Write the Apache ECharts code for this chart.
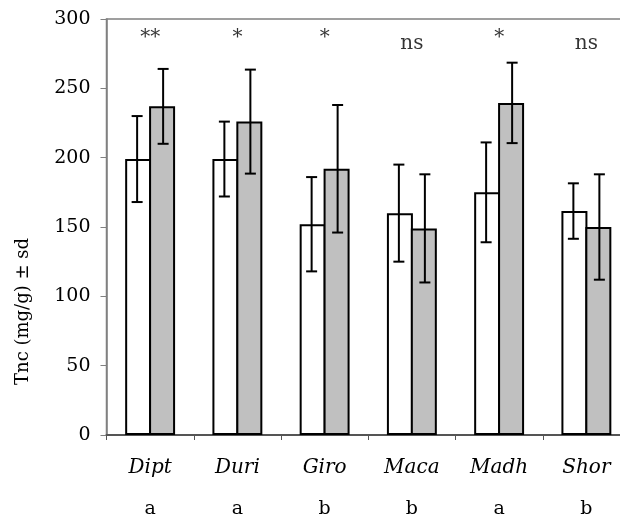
<!DOCTYPE html>
<html>
<head>
<meta charset="utf-8">
<script src="https://cdn.jsdelivr.net/npm/echarts@6/dist/echarts.min.js"></script>
<style>
  html, body { margin: 0; padding: 0; background: #fff; }
  #chart { width: 620px; height: 517px; }
</style>
</head>
<body>
<div id="chart"></div>
<script>
// Tnc content per genus: two groups (open and shaded bars), mean ± sd
const categories = ['Dipt', 'Duri', 'Giro', 'Maca', 'Madh', 'Shor'];
const openMean = [199, 199, 152, 160, 175, 161.5];
const openSd   = [31, 27, 34, 35, 36, 20];
const shadedMean = [237, 226, 192, 149, 239.5, 150];
const shadedSd   = [27, 37.5, 46, 39, 29, 38];
const sigLabels = ['**', '*', '*', 'ns', '*', 'ns'];
const groupLetters = ['a', 'a', 'b', 'b', 'a', 'b'];
const yTicks = { min: 0, max: 300, step: 50 };

const SERIF = '"DejaVu Serif", "Liberation Serif", serif';
const BAR_W = 26;

function errorBarSeries(means, sds, shift) {
  return {
    type: 'custom',
    z: 5,
    silent: true,
    data: means.map((m, i) => [i, m, sds[i]]),
    renderItem: function (params, api) {
      const idx = api.value(0);
      const m = api.value(1);
      const s = api.value(2);
      const hi = api.coord([idx, m + s]);
      const lo = api.coord([idx, m - s]);
      const x = hi[0] + shift;
      const cap = 5.5;
      const style = { stroke: '#000', lineWidth: 2, fill: null };
      return {
        type: 'group',
        children: [
          { type: 'line', shape: { x1: x, y1: hi[1], x2: x, y2: lo[1] }, style: style },
          { type: 'line', shape: { x1: x - cap, y1: hi[1], x2: x + cap, y2: hi[1] }, style: style },
          { type: 'line', shape: { x1: x - cap, y1: lo[1], x2: x + cap, y2: lo[1] }, style: style }
        ]
      };
    }
  };
}

const chart = echarts.init(document.getElementById('chart'));
chart.setOption({
  animation: false,
  backgroundColor: '#fff',
  grid: {
    left: 106.5, width: 523.5, top: 19, bottom: 82,
    outerBoundsMode: 'none',
    containLabel: false,
    show: true, borderColor: '#808080', borderWidth: 1.5, backgroundColor: 'transparent'
  },
  xAxis: [
    {
      type: 'category',
      data: categories,
      axisLine: { lineStyle: { color: '#555', width: 2 } },
      axisTick: { show: true, length: 5, lineStyle: { color: '#555', width: 1 } },
      axisLabel: {
        margin: 23, color: '#000', fontFamily: SERIF, fontStyle: 'italic', fontSize: 20
      }
    },
    {
      type: 'category',
      position: 'bottom',
      data: groupLetters,
      axisLine: { show: false },
      axisTick: { show: false },
      axisLabel: { margin: 65, color: '#000', fontFamily: SERIF, fontSize: 19 }
    }
  ],
  yAxis: {
    type: 'value',
    min: yTicks.min, max: yTicks.max, interval: yTicks.step,
    splitLine: { show: false },
    axisLine: { show: true, lineStyle: { color: '#808080', width: 1.5 } },
    axisTick: { show: true, length: 6, lineStyle: { color: '#808080', width: 1 } },
    axisLabel: { margin: 16, color: '#000', fontFamily: SERIF, fontSize: 19 }
  },
  graphic: [{
    type: 'text',
    left: 14,
    top: 238,
    rotation: Math.PI / 2,
    style: {
      text: 'Tnc (mg/g) ± sd',
      font: '18px ' + SERIF,
      fill: '#000'
    }
  }],
  series: [
    {
      type: 'bar',
      data: openMean,
      barWidth: BAR_W,
      barGap: '-8%',
      itemStyle: { color: '#ffffff', borderColor: '#000', borderWidth: 2 }
    },
    {
      type: 'bar',
      data: shadedMean,
      barWidth: BAR_W,
      barGap: '-8%',
      itemStyle: { color: '#c0c0c0', borderColor: '#000', borderWidth: 2 }
    },
    errorBarSeries(openMean, openSd, -BAR_W / 2),
    errorBarSeries(shadedMean, shadedSd, BAR_W / 2),
    {
      type: 'scatter',
      symbolSize: 0,
      silent: true,
      data: sigLabels.map((s, i) => ({
        value: [i, 282],
        label: { offset: [0, s.indexOf('*') >= 0 ? -6 : 0] }
      })),
      label: {
        show: true,
        position: 'inside',
        formatter: p => sigLabels[p.dataIndex],
        color: '#000',
        fontFamily: SERIF,
        fontSize: 20
      }
    }
  ]
});
</script>
</body>
</html>
